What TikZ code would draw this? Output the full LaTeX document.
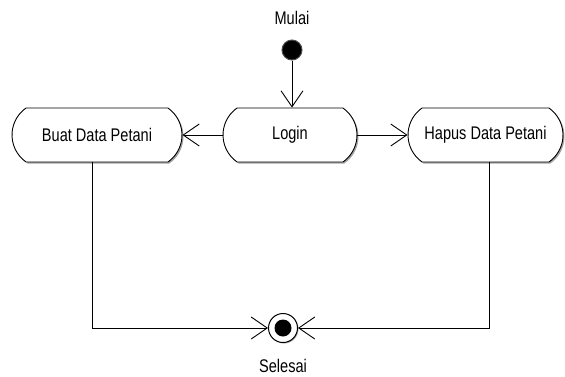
\documentclass[tikz,border=0pt]{standalone}
\usepackage{fontspec}
\usepackage{graphicx}
\setmainfont{Liberation Sans}
\usetikzlibrary{arrows.meta,shapes.misc,shadows}
\newcommand\tallt[1]{\scalebox{0.97}[1.22]{#1}}
\begin{document}
\begin{tikzpicture}[x=1pt,y=-1pt,
  font=\fontsize{15}{18}\selectfont,
  activity/.style={rounded rectangle, rounded rectangle arc length=110, draw=black, line width=0.9pt, fill=white,
    minimum height=54pt, inner sep=0pt,
    drop shadow={shadow xshift=1.5pt, shadow yshift=-1.5pt, fill=black!60, opacity=0.6}},
  flow/.style={line width=0.9pt, -{Straight Barb[length=16pt,width=22pt,line width=0.9pt]}},
  lbl/.style={inner sep=0pt}]
\useasboundingbox (0,0) rectangle (565,376);
\node[lbl] (mulai) at (292,18) {\tallt{Mulai}};
\node[circle, fill=black, draw=black!70, line width=1pt, minimum size=20pt, inner sep=0pt] (start) at (292,50) {};
\node[activity, minimum width=134pt] (login) at (290,135) {\tallt{Login}};
\node[activity, minimum width=170pt] (buat) at (97,135) {\tallt{Buat Data Petani}};
\node[activity, minimum width=155pt] (hapus) at (485.5,135) {\tallt{Hapus Data Petani}};
\node[circle, draw=black, line width=1pt, fill=white, minimum size=29pt, inner sep=0pt,
  drop shadow={shadow xshift=1pt, shadow yshift=-1pt, fill=black!60, opacity=0.6}] (end) at (283,328) {};
\node[circle, fill=black, minimum size=17pt, inner sep=0pt] (endin) at (end.center) {};
\node[lbl] (selesai) at (283,366) {\tallt{Selesai}};
\draw[flow] (start) -- (start |- login.north);
\draw[flow] (login.west) -- (buat.east);
\draw[flow] (login.east) -- (hapus.west);
\draw[flow] ([xshift=-5pt]buat.south) |- (end);
\draw[flow] ([xshift=3.5pt]hapus.south) |- (end);
\end{tikzpicture}
\end{document}
